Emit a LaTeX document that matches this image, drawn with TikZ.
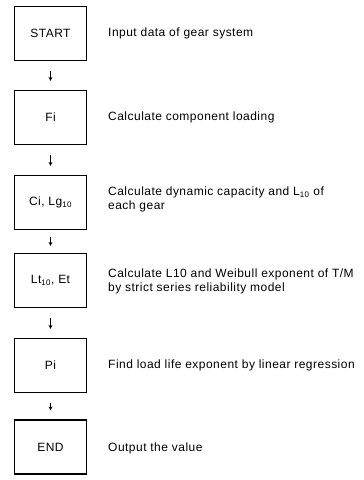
\documentclass[tikz,border=0pt]{standalone}
\usepackage{fontspec}
\setmainfont{Liberation Sans}[LetterSpace=4]
\usepackage{tikz}
\usetikzlibrary{
    arrows.meta,
    positioning
}

\tikzset{
    stepbox/.style={draw, line width=1.2pt, minimum width=72pt,
        minimum height=54pt, inner sep=0pt},
    note/.style={anchor=west, align=left, inner sep=0pt},
    flow/.style={line width=0.9pt, -{Stealth[length=4pt,width=4pt]},
        shorten <=10pt, shorten >=9pt}
}

\begin{document}
\begin{tikzpicture}[x=1pt,y=1pt,font=\fontsize{12}{14.5}\selectfont]

\useasboundingbox (0,0) rectangle (364,-480);

% boxes
\node[stepbox] (start) at (50.5,-33.5)  {START};
\node[stepbox] (fi)    at (50.5,-117.5) {Fi};
\node[stepbox] (ci)    at (50.5,-202.5) {Ci, Lg\textsubscript{10}};
\node[stepbox] (lt)    at (50.5,-280.5) {Lt\textsubscript{10}, Et};
\node[stepbox] (pi)    at (50.5,-365.5) {Pi};
\node[stepbox] (end)   at (50.5,-447)   {END};

% arrows
\draw[flow] (start) -- (fi);
\draw[flow] (fi) -- (ci);
\draw[flow,shorten <=7pt,shorten >=7pt] (ci) -- (lt);
\draw[flow] (lt) -- (pi);
\draw[flow] (pi) -- (end);

% notes
\node[note] (tstart) at (108,-33.5)  {Input data of gear system};
\node[note] (tfi)    at (108,-117.5) {Calculate component loading};
\node[note] (tci)    at (108,-199.5) {Calculate dynamic capacity and L\textsubscript{10} of\\each gear};
\node[note] (tlt)    at (108,-281.5) {Calculate L10 and Weibull exponent of T/M\\by strict series reliability model};
\node[note] (tpi)    at (108,-365.5) {Find load life exponent by linear regression};
\node[note] (tend)   at (108,-448)   {Output the value};

\end{tikzpicture}
\end{document}
